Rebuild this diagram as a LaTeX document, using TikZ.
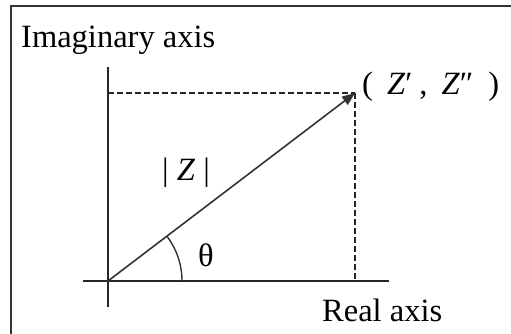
\documentclass[tikz,border=0pt]{standalone}
\usepackage{fontspec}
\setmainfont{Liberation Serif}
\usetikzlibrary{calc, arrows.meta}

\begin{document}
\begin{tikzpicture}[
    x=1pt, y=1pt,
    axis/.style={line width=1.7pt, black!85},
    vec/.style={-{Triangle[length=13pt, width=10pt]}, line width=1.6pt, black!80},
    proj/.style={line width=1.4pt, black!85, dash pattern=on 6pt off 3pt},
    lbl/.style={font=\fontsize{32.5}{38}\selectfont, inner sep=0pt}
]

    % Cornice e dimensioni del disegno (px)
    \useasboundingbox (0,0) rectangle (511,334);
    \draw[line width=1.4pt, black!80] (11,-20) rectangle (540,328);

    % Origine e punto Z
    \coordinate (O) at (108,53);
    \coordinate (P) at (355,241);

    % 1. Assi
    \coordinate (xl) at (83,53);
    \coordinate (xr) at (389,53);
    \coordinate (yb) at (108,27);
    \coordinate (yt) at (108,267);
    \draw[axis] (xl) -- (xr);
    \draw[axis] (yb) -- (yt);

    % 2. Proiezioni tratteggiate
    \coordinate (Py) at (108,241);
    \coordinate (Px) at (355,53);
    \draw[proj] (Py) -- (P);
    \draw[proj] (P) -- (Px);

    % 3. Vettore e angolo
    \draw[vec] (O) -- (P);
    \draw[line width=1.4pt, black!80] ($(O)+(74,0)$) arc[start angle=0, end angle=37.3, radius=74];

    % 4. Etichette
    \node[lbl, anchor=base west] (imag) at (21,286) {Imaginary axis};
    \node[lbl, anchor=base west] (real) at (322,12) {Real axis};
    \node[lbl, anchor=base west] (pt) at (362,239)
        {(\hspace{14pt}\textit{Z}′\hspace{7pt},\hspace{14pt}\textit{Z}″\hspace{15pt})};
    \node[lbl] (mod) at (186,161) {| \textit{Z} |};
    \node[lbl] (th) at (206,79) {θ};

\end{tikzpicture}
\end{document}
